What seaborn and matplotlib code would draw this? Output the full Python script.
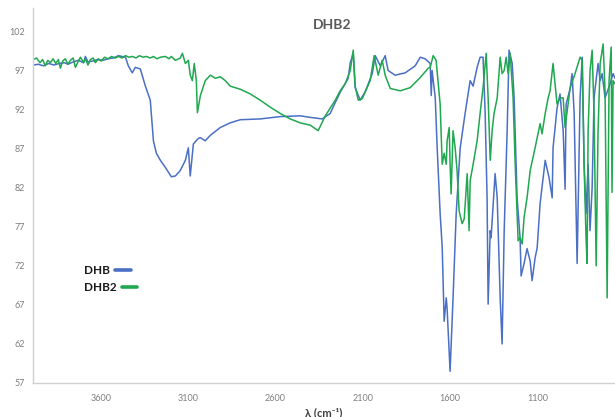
import matplotlib
matplotlib.use("Agg")
import matplotlib.pyplot as plt
import numpy as np
import pandas as pd
import seaborn as sns

# ── data (wavenumber in cm-1, transmittance %) ──
dhb_wn = [
    3988, 3960, 3930, 3900, 3870, 3840, 3810, 3790, 3760, 3730, 3700, 3690, 3675,
    3650, 3620, 3590, 3560, 3530, 3500, 3480, 3460, 3444, 3421, 3404, 3390, 3375,
    3346, 3318, 3300, 3283, 3260, 3232, 3197, 3174, 3146, 3117, 3100, 3089, 3071,
    3043, 3031, 3003, 2974, 2917, 2860, 2802, 2688, 2573, 2459, 2401, 2333, 2287,
    2258, 2230, 2184, 2172, 2155, 2144, 2115, 2086, 2046, 2029, 2000, 1972, 1955,
    1915, 1857, 1800, 1771, 1743, 1714, 1708, 1703, 1685, 1674, 1657, 1645, 1634,
    1622, 1617, 1600, 1583, 1565, 1542, 1514, 1485, 1468, 1445, 1428, 1411, 1399,
    1388, 1382, 1370, 1365, 1342, 1330, 1313, 1302, 1290, 1273, 1262, 1244, 1233,
    1216, 1199, 1193, 1176, 1159, 1141, 1130, 1113, 1101, 1084, 1055, 1033, 1015,
    1010, 987, 970, 952, 941, 935, 912, 901, 889, 872, 855, 843, 832, 821, 809,
    798, 786, 775, 752, 740, 729, 712, 683, 666, 655,
]
dhb_t = [
    97.7, 97.8, 97.6, 97.9, 97.7, 97.9, 98.0, 97.8, 98.1, 98.3, 98.0, 98.8, 98.1,
    98.2, 98.4, 98.3, 98.5, 98.6, 98.9, 98.8, 98.7, 97.6, 96.7, 97.4, 97.3, 97.2,
    95.0, 93.2, 88.0, 86.4, 85.5, 84.6, 83.4, 83.5, 84.2, 85.5, 87.1, 83.5, 87.6,
    88.3, 88.4, 88.0, 88.7, 89.7, 90.3, 90.7, 90.8, 91.1, 91.2, 91.0, 90.8, 91.5,
    92.9, 94.2, 96.0, 98.0, 99.2, 94.8, 93.2, 94.3, 96.6, 98.9, 97.6, 98.9, 97.0,
    96.4, 96.7, 97.6, 98.7, 98.5, 97.9, 93.8, 97.0, 93.5, 87.1, 78.7, 74.3, 64.9,
    67.9, 66.5, 58.5, 67.9, 78.7, 87.1, 91.5, 95.7, 95.0, 97.4, 98.7, 98.7, 91.5,
    80.7, 67.1, 76.5, 75.6, 83.8, 80.7, 67.9, 62.0, 76.5, 89.3, 99.6, 97.9, 93.5,
    80.7, 75.6, 70.7, 72.3, 74.2, 72.6, 70.1, 73.0, 74.3, 80.0, 85.5, 83.3, 80.7,
    87.1, 92.2, 94.0, 89.3, 81.8, 92.7, 94.7, 96.6, 91.5, 72.3, 93.5, 98.7, 85.0,
    78.7, 85.0, 76.5, 82.0, 93.5, 97.9, 95.7, 96.6, 93.5, 95.3, 96.6, 96.0,
]

dhb2_wn = [
    3988, 3970, 3950, 3935, 3920, 3905, 3890, 3875, 3860, 3845, 3833, 3820, 3805,
    3790, 3776, 3760, 3747, 3730, 3718, 3700, 3690, 3675, 3661, 3645, 3633, 3615,
    3600, 3580, 3560, 3540, 3520, 3500, 3480, 3460, 3440, 3420, 3400, 3380, 3360,
    3340, 3318, 3300, 3280, 3260, 3232, 3210, 3197, 3174, 3146, 3134, 3117, 3100,
    3089, 3077, 3066, 3054, 3048, 3031, 3003, 2974, 2945, 2917, 2888, 2860, 2802,
    2745, 2688, 2630, 2573, 2516, 2459, 2401, 2356, 2315, 2258, 2230, 2201, 2172,
    2155, 2144, 2126, 2103, 2058, 2035, 2012, 1989, 1972, 1943, 1886, 1829, 1771,
    1725, 1714, 1697, 1680, 1657, 1645, 1634, 1622, 1617, 1605, 1600, 1594, 1583,
    1571, 1560, 1548, 1531, 1519, 1502, 1491, 1485, 1468, 1445, 1428, 1411, 1393,
    1382, 1370, 1359, 1348, 1330, 1313, 1302, 1290, 1279, 1267, 1256, 1239, 1227,
    1210, 1199, 1187, 1176, 1159, 1141, 1113, 1084, 1073, 1055, 1038, 1027, 1010,
    987, 970, 952, 941, 912, 884, 855, 843, 832, 821, 815, 809, 798, 786, 775,
    763, 752, 740, 723, 712, 700, 689, 677, 672, 666, 655,
]
dhb2_t = [
    98.4, 98.6, 98.0, 98.4, 97.6, 98.3, 98.0, 98.5, 97.9, 98.4, 97.3, 98.2, 98.5,
    97.8, 98.3, 98.6, 97.4, 98.2, 98.7, 98.0, 98.5, 97.7, 98.4, 98.6, 98.0, 98.5,
    98.2, 98.7, 98.5, 98.8, 98.6, 98.8, 98.6, 98.9, 98.7, 98.8, 98.6, 98.9, 98.7,
    98.8, 98.6, 98.8, 98.5, 98.7, 98.8, 98.5, 98.8, 98.3, 98.6, 99.2, 97.9, 98.3,
    96.4, 95.7, 97.9, 95.7, 91.6, 93.8, 95.7, 96.4, 96.0, 96.2, 95.7, 95.0, 94.6,
    94.0, 93.2, 92.3, 91.5, 90.8, 90.3, 90.0, 89.3, 91.2, 93.2, 94.4, 95.3, 97.0,
    99.6, 95.0, 93.2, 93.4, 95.7, 98.9, 96.4, 98.3, 96.4, 94.7, 94.4, 94.8, 96.1,
    97.3, 97.4, 98.9, 98.3, 92.7, 85.0, 86.4, 85.0, 88.0, 89.7, 85.0, 81.2, 89.3,
    87.1, 84.2, 79.0, 77.4, 78.0, 83.8, 76.5, 82.9, 85.0, 88.0, 91.5, 94.8, 99.2,
    93.5, 85.5, 89.3, 91.5, 93.5, 98.7, 96.6, 97.0, 98.7, 96.6, 99.2, 93.5, 85.0,
    75.2, 75.6, 74.8, 78.2, 80.7, 84.2, 87.1, 90.2, 88.9, 91.5, 93.5, 94.4, 97.9,
    92.7, 93.5, 93.5, 89.7, 94.8, 96.6, 98.7, 98.3, 85.0, 75.6, 72.3, 89.3, 97.0,
    99.6, 91.5, 72.0, 89.3, 97.9, 100.4, 94.4, 67.9, 95.7, 100.0, 81.4, 95.7, 95.3,
]

samples = ["DHB", "DHB2"]
colors = {"DHB": "#4a6fc4", "DHB2": "#1fa84f"}
y_ticks = [57, 62, 67, 72, 77, 82, 87, 92, 97, 102]
x_ticks = [3600, 3100, 2600, 2100, 1600, 1100]

df = pd.concat([
    pd.DataFrame({"wn": dhb_wn, "T": dhb_t, "sample": "DHB"}),
    pd.DataFrame({"wn": dhb2_wn, "T": dhb2_t, "sample": "DHB2"}),
], ignore_index=True)

sns.set_style("white")
plt.rcParams["font.family"] = ["Lato", "DejaVu Sans"]

fig = plt.figure(figsize=(6.15, 4.17), dpi=100)
ax = fig.add_axes([33 / 615, 34 / 417, 582 / 615, 375 / 417])

sns.lineplot(data=df, x="wn", y="T", hue="sample", hue_order=samples,
             palette=colors, estimator=None, sort=False, lw=1.1,
             legend=False, ax=ax)

ax.set_xlim(3990, 655)
ax.set_ylim(57, 105)
ax.set_xticks(x_ticks)
ax.set_yticks(y_ticks)
ax.tick_params(length=0, labelsize=6.5, colors="#7f7f7f", pad=8)
ax.tick_params(axis="y", pad=6)

for side in ("top", "right"):
    ax.spines[side].set_visible(False)
for side in ("left", "bottom"):
    ax.spines[side].set_color("#d0d0d0")
    ax.spines[side].set_linewidth(1.0)

ax.set_ylabel("")
ax.set_xlabel("λ (cm⁻¹)", fontsize=8, fontweight="bold", color="#404040",
              labelpad=3)
ax.text(0.514, 0.955, "DHB2", transform=ax.transAxes, ha="center", va="center",
        fontsize=10, fontweight="bold", color="#595959")

# one legend per sample so the text stays left-aligned with its line after it
for i, name in enumerate(samples):
    h = plt.Line2D([], [], color=colors[name], lw=2.6)
    leg = ax.legend([h], [name], loc="upper left",
                    bbox_to_anchor=(51 / 582, (383 - 265 - i * 17) / 375),
                    frameon=False, markerfirst=False, handlelength=1.3,
                    handletextpad=0.45, borderpad=0, borderaxespad=0,
                    prop={"weight": "bold", "size": 8.5})
    for t in leg.get_texts():
        t.set_color("#1a1a1a")
    if i == 0:
        ax.add_artist(leg)

fig.savefig("out.png", dpi=100)
plt.close(fig)
